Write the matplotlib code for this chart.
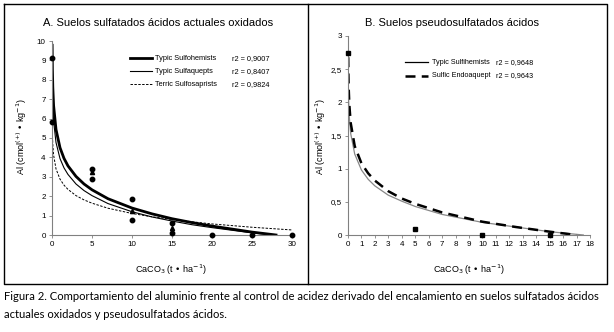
import matplotlib
matplotlib.use("Agg")
import matplotlib.pyplot as plt
from matplotlib.lines import Line2D

plt.rcParams['font.family'] = ['Liberation Sans', 'DejaVu Sans']

# ---- Panel A: suelos sulfatados acidos actuales oxidados ----
a_curve_x = [0.02, 0.05, 0.1, 0.2, 0.5, 1, 1.5, 2, 3, 4, 5, 7, 10, 12.5, 15, 17.5, 20, 25, 28]
a_hemists = [9.78, 8.54, 7.61, 6.67, 5.44, 4.5, 3.95, 3.56, 3.02, 2.63, 2.33, 1.87, 1.39, 1.09, 0.84, 0.64, 0.46, 0.15, 0.0]
a_aquepts_x = [0.02, 0.05, 0.1, 0.2, 0.5, 1, 1.5, 2, 3, 4, 5, 7, 10, 12.5, 15, 17.5, 20, 25, 27.5]
a_aquepts = [8.59, 7.51, 6.68, 5.86, 4.77, 3.94, 3.46, 3.12, 2.63, 2.29, 2.03, 1.62, 1.20, 0.93, 0.72, 0.53, 0.38, 0.11, 0.0]
a_saprists_x = [0.02, 0.05, 0.1, 0.2, 0.5, 1, 1.5, 2, 3, 4, 5, 7, 10, 12.5, 15, 17.5, 20, 25, 30]
a_saprists = [5.89, 5.19, 4.65, 4.12, 3.41, 2.88, 2.57, 2.35, 2.03, 1.81, 1.64, 1.38, 1.11, 0.94, 0.80, 0.68, 0.57, 0.40, 0.26]

a_pts_x = [0, 0, 5, 5, 10, 10, 15, 15, 20, 25, 30]
a_pts_y = [9.1, 5.8, 3.4, 2.9, 1.85, 0.75, 0.62, 0.1, 0, 0, 0]
a_tri_x = [5, 10, 15]
a_tri_y = [3.25, 1.25, 0.35]

a_names = ['Typic Sulfohemists', 'Typic Sulfaquepts', 'Terric Sulfosaprists']
a_r2 = ['r2 = 0,9007', 'r2 = 0,8407', 'r2 = 0,9824']

# ---- Panel B: suelos pseudosulfatados acidos ----
b_hem_x = [0.008, 0.03, 0.05, 0.1, 0.2, 0.5, 1, 1.5, 2, 3, 4, 5, 7, 10, 12.5, 15, 17.5]
b_hemists = [2.63, 2.18, 2.00, 1.77, 1.53, 1.22, 0.98, 0.84, 0.74, 0.60, 0.51, 0.43, 0.31, 0.19, 0.12, 0.05, 0.0]
b_endo_x = [0.015, 0.03, 0.05, 0.1, 0.2, 0.5, 1, 1.5, 2, 3, 4, 5, 7, 10, 12.5, 15, 17]
b_endo = [2.68, 2.42, 2.22, 1.96, 1.69, 1.34, 1.08, 0.93, 0.82, 0.66, 0.55, 0.47, 0.34, 0.20, 0.12, 0.05, 0.0]

b_pts_x = [0, 5, 10, 15]
b_pts_y = [2.75, 0.09, 0.0, 0.0]

b_names = ['Typic Sulfihemists', 'Sulfic Endoaquept']
b_r2 = ['r2 = 0,9648', 'r2 = 0,9643']

W, H = 614, 332
fig = plt.figure(figsize=(W / 100, H / 100), dpi=100)


def fx(px):
    return px / W


def fy(py):
    return 1 - py / H


def style_axes(ax):
    for s in ['top', 'right']:
        ax.spines[s].set_visible(False)
    for s in ['left', 'bottom']:
        ax.spines[s].set_color('#808080')
        ax.spines[s].set_linewidth(0.8)
    ax.tick_params(direction='out', length=2.5, width=0.6, color='#808080',
                   labelsize=5.8, pad=2)


# panel A
axA = fig.add_axes([fx(52), fy(235), fx(240), 194 / H])
style_axes(axA)
axA.plot(a_curve_x, a_hemists, color='black', lw=2.0)
axA.plot(a_aquepts_x, a_aquepts, color='black', lw=0.8)
axA.plot(a_saprists_x, a_saprists, color='black', lw=0.7, dashes=(2.5, 1.5))
axA.plot(a_pts_x, a_pts_y, 'o', color='black', ms=3.2, clip_on=False, zorder=5)
axA.plot(a_tri_x, a_tri_y, '^', color='black', ms=3.0, clip_on=False, zorder=5)
axA.set_xlim(0, 30)
axA.set_ylim(0, 10)
axA.set_xticks(range(0, 31, 5))
axA.set_yticks(range(0, 11))

a_styles = [dict(lw=2.0), dict(lw=0.8), dict(lw=0.7, dashes=(2.5, 1.5))]
for i, (nm, r2) in enumerate(zip(a_names, a_r2)):
    yy = 0.912 - i * 0.067
    axA.plot([0.325, 0.417], [yy, yy], transform=axA.transAxes, color='black',
             clip_on=False, **a_styles[i])
    axA.text(0.43, yy, nm, transform=axA.transAxes, fontsize=5.3, va='center')
    axA.text(0.75, yy, r2, transform=axA.transAxes, fontsize=5.3, va='center')

fig.text(fx(158), fy(23), 'A. Suelos sulfatados ácidos actuales oxidados',
         fontsize=8, ha='center', va='center')
fig.text(fx(171), fy(270), r'CaCO$_3$ (t • ha$^{-1}$)', fontsize=6.5,
         ha='center', va='center')
fig.text(fx(22), fy(137), r'Al (cmol$^{(+)}$ • kg$^{-1}$)', fontsize=6.5,
         ha='center', va='center', rotation=90)

# panel B
axB = fig.add_axes([fx(348), fy(235), fx(242), 199 / H])
style_axes(axB)
axB.plot(b_hem_x, b_hemists, color='#888888', lw=0.9)
axB.plot(b_endo_x, b_endo, color='black', lw=1.8, dashes=(4, 2.5))
axB.plot(b_pts_x, b_pts_y, 's', color='black', ms=3.0, clip_on=False, zorder=5)
axB.set_xlim(0, 18)
axB.set_ylim(0, 3)
axB.set_xticks(range(0, 19))
axB.set_yticks([0, 0.5, 1, 1.5, 2, 2.5, 3])
axB.set_yticklabels(['0', '0,5', '1', '1,5', '2', '2,5', '3'])

b_styles = [dict(lw=0.9), dict(lw=1.8, dashes=(4, 2.5))]
for i, (nm, r2) in enumerate(zip(b_names, b_r2)):
    yy = 0.869 - i * 0.07
    axB.plot([0.236, 0.33], [yy, yy], transform=axB.transAxes, color='black',
             clip_on=False, **b_styles[i])
    axB.text(0.347, yy, nm, transform=axB.transAxes, fontsize=5.2, va='center')
    axB.text(0.612, yy, r2, transform=axB.transAxes, fontsize=5.2, va='center')

fig.text(fx(452), fy(23), 'B. Suelos pseudosulfatados ácidos',
         fontsize=8, ha='center', va='center')
fig.text(fx(469), fy(270), r'CaCO$_3$ (t • ha$^{-1}$)', fontsize=6.5,
         ha='center', va='center')
fig.text(fx(321), fy(137), r'Al (cmol$^{(+)}$ • kg$^{-1}$)', fontsize=6.5,
         ha='center', va='center', rotation=90)

# marco
box = dict(color='black', lw=1.0, transform=fig.transFigure)
fig.add_artist(Line2D([fx(4), fx(607), fx(607), fx(4), fx(4)],
                      [fy(4), fy(4), fy(284), fy(284), fy(4)], **box))
fig.add_artist(Line2D([fx(308), fx(308)], [fy(4), fy(284)], **box))

# pie de figura
cap_font = ['Liberation Sans Narrow', 'Lato', 'DejaVu Sans']
fig.text(fx(4), fy(297), 'Figura 2. Comportamiento del aluminio frente al control de acidez '
         'derivado del encalamiento en suelos sulfatados ácidos',
         fontsize=8.1, family=cap_font, ha='left', va='center')
fig.text(fx(4), fy(315), 'actuales oxidados y pseudosulfatados ácidos.',
         fontsize=8.1, family=cap_font, ha='left', va='center')

fig.savefig('out.png', dpi=100)
